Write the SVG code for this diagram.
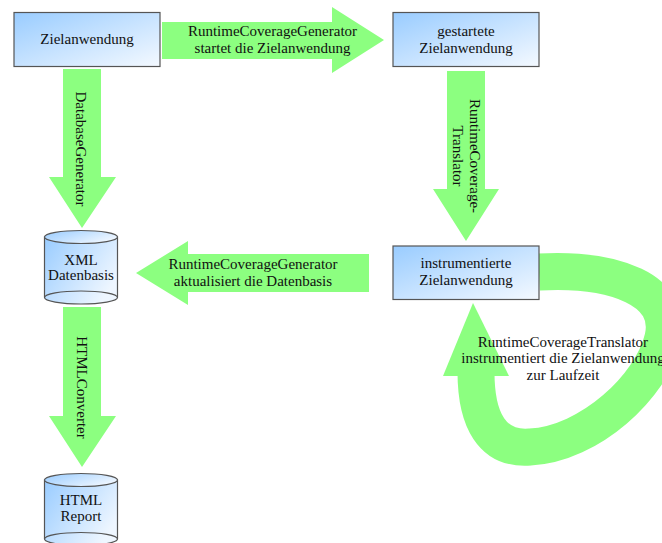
<svg xmlns="http://www.w3.org/2000/svg" width="662" height="543" viewBox="0 0 662 543">
  <defs>
    <linearGradient id="boxFill" x1="0" y1="0" x2="1" y2="1">
      <stop offset="0" stop-color="#99ccff"/>
      <stop offset="1" stop-color="#f4f9ff"/>
    </linearGradient>
    <linearGradient id="cylFill" x1="0" y1="0" x2="1" y2="0.6">
      <stop offset="0" stop-color="#99ccff"/>
      <stop offset="1" stop-color="#eef6ff"/>
    </linearGradient>
  </defs>
  <style>
    .box { fill: url(#boxFill); stroke: #555; stroke-width: 1.2; }
    .cyl { fill: url(#cylFill); stroke: #555; stroke-width: 1.2; }
    .arrow { fill: #8cff80; stroke: none; }
    .loop { fill: none; stroke: #8cff80; stroke-width: 37; }
    text { font-family: "Liberation Serif", "Times New Roman", serif; font-size: 15px; fill: #111; text-anchor: middle; }
  </style>

  <!-- block arrows -->
  <g id="connectors">
    <polygon class="arrow" points="162,22 332,22 332,7 384,40 332,73 332,59 162,59"/>
    <text x="272.5" y="36">RuntimeCoverageGenerator</text>
    <text x="272.5" y="52.7">startet die Zielanwendung</text>

    <polygon class="arrow" points="447,71 485,71 485,189 499,189 466,241 433,189 447,189"/>
    <g transform="translate(470,156) rotate(90)">
      <text x="0" y="0">RuntimeCoverage-</text>
      <text x="0" y="17">Translator</text>
    </g>

    <polygon class="arrow" points="63,69 101,69 101,177 116,177 82,228 49,177 63,177"/>
    <text transform="translate(76,149) rotate(90)" x="0" y="0">DatabaseGenerator</text>

    <polygon class="arrow" points="63,307 101,307 101,416 116,416 82,467 49,416 63,416"/>
    <text transform="translate(77,387.5) rotate(90)" x="0" y="0">HTMLConverter</text>

    <polygon class="arrow" points="369,254 369,292 188,292 188,305 136,273 188,241 188,254"/>
    <text x="253" y="269.3">RuntimeCoverageGenerator</text>
    <text x="253" y="286">aktualisiert die Datenbasis</text>

    <!-- self loop back into the instrumented application -->
    <path class="loop" d="M539,272 C615,268 674,290 663,338 C652,386 590,444 530,447 C492,450 476,420 476,372"/>
    <polygon class="arrow" points="443,376 509,376 473,303"/>
    <text x="563" y="346.7">RuntimeCoverageTranslator</text>
    <text x="563" y="363.3">instrumentiert die Zielanwendung</text>
    <text x="563" y="380">zur Laufzeit</text>
  </g>

  <!-- process boxes -->
  <g id="zielanwendung">
    <rect class="box" x="14" y="12.5" width="146" height="54"/>
    <text x="87" y="44">Zielanwendung</text>
  </g>
  <g id="gestartete">
    <rect class="box" x="393" y="12.5" width="146" height="54"/>
    <text x="466" y="36">gestartete</text>
    <text x="466" y="53">Zielanwendung</text>
  </g>
  <g id="instrumentierte">
    <rect class="box" x="393" y="246" width="146" height="53.5"/>
    <text x="466" y="268.3">instrumentierte</text>
    <text x="466" y="285">Zielanwendung</text>
  </g>

  <!-- data stores -->
  <g id="xml-datenbasis">
    <path class="cyl" d="M44.5,237 L44.5,297.5 A36.5,6.5 0 0 0 117.5,297.5 L117.5,237 Z"/>
    <path fill="none" stroke="#555" stroke-width="1.2" d="M44.5,297.5 A36.5,6.5 0 0 1 117.5,297.5"/>
    <ellipse class="cyl" cx="81" cy="237" rx="36.5" ry="6.5"/>
    <text x="81" y="264.5">XML</text>
    <text x="81" y="280">Datenbasis</text>
  </g>
  <g id="html-report">
    <path class="cyl" d="M44.5,480 L44.5,539 A36.5,6.5 0 0 0 117.5,539 L117.5,480 Z"/>
    <path fill="none" stroke="#555" stroke-width="1.2" d="M44.5,539 A36.5,6.5 0 0 1 117.5,539"/>
    <ellipse class="cyl" cx="81" cy="480" rx="36.5" ry="6.5"/>
    <text x="81" y="505">HTML</text>
    <text x="81" y="521">Report</text>
  </g>
</svg>
